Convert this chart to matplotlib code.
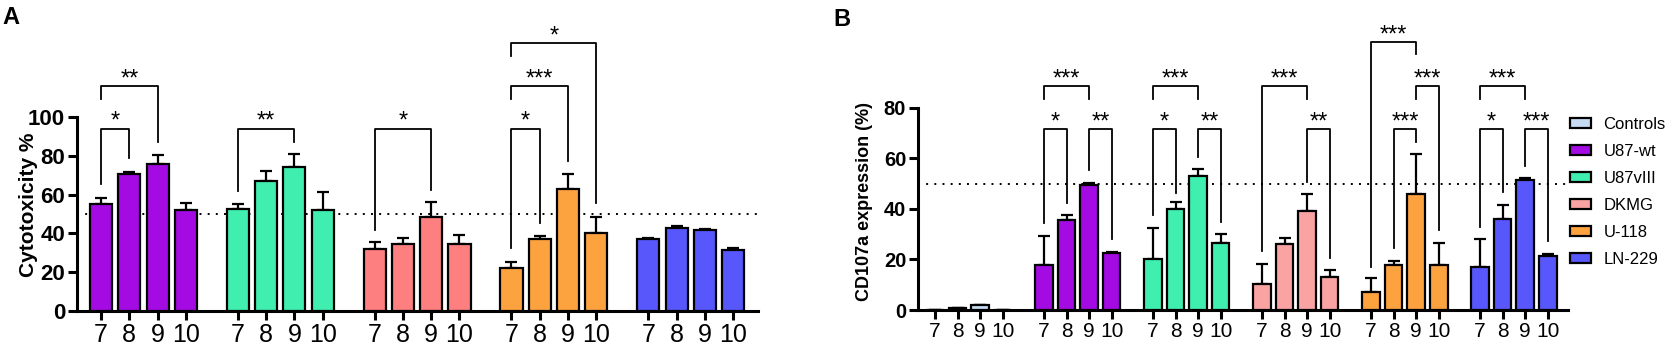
import matplotlib
matplotlib.use("Agg")
import matplotlib.pyplot as plt
from matplotlib.patches import Patch

plt.rcParams['font.family'] = ['Liberation Sans', 'DejaVu Sans']

hours = ['7', '8', '9', '10']

# ---- Panel A: cytotoxicity % ----
a_groups = ['U87-wt', 'U87vIII', 'DKMG', 'U-118', 'LN-229']
a_u87wt = [55.0, 70.8, 75.9, 52.0]
a_u87wt_top = [58.0, 71.8, 80.4, 55.5]
a_u87viii = [52.4, 67.0, 74.0, 52.0]
a_u87viii_top = [55.3, 72.3, 80.8, 61.3]
a_dkmg = [31.8, 34.7, 48.6, 34.4]
a_dkmg_top = [35.7, 37.5, 56.0, 39.0]
a_u118 = [22.0, 37.3, 62.7, 40.2]
a_u118_top = [25.4, 38.7, 70.6, 48.5]
a_ln229 = [37.1, 43.0, 41.6, 31.4]
a_ln229_top = [37.8, 43.8, 42.3, 32.5]
a_means = [a_u87wt, a_u87viii, a_dkmg, a_u118, a_ln229]
a_tops = [a_u87wt_top, a_u87viii_top, a_dkmg_top, a_u118_top, a_ln229_top]
a_colors = ['#a40be3', '#40efb0', '#fd7f7f', '#fca23f', '#5757fb']
# (group, bar i, bar j, bracket level, left leg end, right leg end, label)
a_brackets = [
    (0, 0, 1, 94, 65.5, 78.8, '*'),
    (0, 0, 2, 116, 109.4, 87.0, '**'),
    (1, 0, 2, 94, 61.9, 87.0, '**'),
    (2, 0, 2, 94, 42.0, 62.4, '*'),
    (3, 0, 1, 94, 32.3, 45.5, '*'),
    (3, 0, 2, 116, 109.4, 77.3, '***'),
    (3, 0, 3, 138, 131.4, 55.5, '*'),
]

# ---- Panel B: CD107a expression (%) ----
b_groups = ['Controls', 'U87-wt', 'U87vIII', 'DKMG', 'U-118', 'LN-229']
b_controls = [0.0, 0.6, 1.8, 0.0]
b_controls_top = [0.0, 0.6, 1.8, 0.0]
b_u87wt = [17.7, 35.7, 49.3, 22.7]
b_u87wt_top = [29.4, 37.5, 50.2, 22.9]
b_u87viii = [20.3, 40.0, 53.1, 26.6]
b_u87viii_top = [32.5, 42.8, 55.7, 29.9]
b_dkmg = [10.3, 26.2, 39.2, 13.2]
b_dkmg_top = [18.3, 28.6, 46.0, 15.7]
b_u118 = [7.1, 17.7, 45.7, 17.7]
b_u118_top = [12.5, 19.4, 61.5, 26.5]
b_ln229 = [17.1, 36.1, 51.3, 21.2]
b_ln229_top = [28.1, 41.4, 52.3, 22.1]
b_means = [b_controls, b_u87wt, b_u87viii, b_dkmg, b_u118, b_ln229]
b_tops = [b_controls_top, b_u87wt_top, b_u87viii_top, b_dkmg_top, b_u118_top, b_ln229_top]
b_colors = ['#c6daf2', '#a40be3', '#40efb0', '#f9a3a3', '#fca23f', '#5757fb']
b_brackets = [
    (1, 0, 1, 71.4, 34.3, 42.4, '*'),
    (1, 2, 3, 71.4, 55.3, 27.9, '**'),
    (1, 0, 2, 88.5, 83.5, 83.5, '***'),
    (2, 0, 1, 71.4, 37.5, 46.4, '*'),
    (2, 2, 3, 71.4, 60.6, 34.9, '**'),
    (2, 0, 2, 88.5, 83.5, 83.5, '***'),
    (3, 0, 2, 88.5, 23.4, 83.5, '***'),
    (3, 2, 3, 71.4, 50.7, 20.7, '**'),
    (4, 0, 2, 105.8, 17.1, 101.2, '***'),
    (4, 1, 2, 71.4, 24.4, 66.5, '***'),
    (4, 2, 3, 88.5, 83.5, 31.6, '***'),
    (5, 0, 1, 71.4, 32.9, 46.5, '*'),
    (5, 2, 3, 71.4, 57.0, 27.3, '***'),
    (5, 0, 2, 88.5, 83.5, 83.5, '***'),
]

GSTEP = 4.84
BW = 0.78
LW = 2.2
W, H = 1668, 350

fig = plt.figure(figsize=(W / 100, H / 100), dpi=100)


def pos(g, i):
    return g * GSTEP + i


def panel(ax, means, tops, colors, brackets, ymax_axis, ylim_top,
          ytick_fs, xtick_fs, ylabel, ylabel_fs, ticks):
    xs_all, labels_all = [], []
    for g, (m, t, c) in enumerate(zip(means, tops, colors)):
        xs = [pos(g, i) for i in range(len(m))]
        err = [max(tt - mm, 0) for tt, mm in zip(t, m)]
        ax.bar(xs, m, width=BW, color=c, edgecolor='black', linewidth=1.6,
               zorder=3)
        ax.errorbar(xs, m, yerr=[[0] * len(m), err], fmt='none',
                    ecolor='black', elinewidth=1.6, capsize=4, capthick=1.6,
                    zorder=2)
        xs_all += xs
        labels_all += hours
    ax.axhline(50, color='black', linestyle=(0, (1, 3.2)), linewidth=1.4,
               zorder=1)
    for g, i, j, lvl, lb, rb, lab in brackets:
        x1, x2 = pos(g, i), pos(g, j)
        ax.plot([x1, x1, x2, x2], [lb, lvl, lvl, rb], color='black',
                linewidth=1.3, clip_on=False, zorder=4)
        ax.annotate(lab, xy=((x1 + x2) / 2, lvl), xytext=(0, 0.5),
                    textcoords='offset points', ha='center', va='baseline',
                    fontsize=17, clip_on=False)
    ax.set_ylim(0, ylim_top)
    ax.set_xticks(xs_all)
    ax.set_xticklabels(labels_all, fontsize=xtick_fs)
    ax.set_yticks(ticks)
    ax.set_yticklabels([str(v) for v in ticks], fontsize=ytick_fs,
                       fontweight='bold')
    for s in ['top', 'right']:
        ax.spines[s].set_visible(False)
    ax.spines['left'].set_bounds(0, ymax_axis)
    ax.spines['left'].set_linewidth(LW)
    ax.spines['bottom'].set_linewidth(LW)
    ax.tick_params(axis='both', length=6.5, width=LW, pad=2)
    ax.set_ylabel(ylabel, fontsize=ylabel_fs, fontweight='bold')


# Panel A axes: x 77..758 px, y zero at 311 px, 1.94 px/unit
axA = fig.add_axes([77 / W, 39 / H, (758 - 77) / W, 306 / H])
panel(axA, a_means, a_tops, a_colors, a_brackets, 100, 306 / 1.94,
      16, 18, 'Cytotoxicity %', 15, [0, 20, 40, 60, 80, 100])
axA.set_xlim(-0.85, 4 * GSTEP + 3 + 0.88)
axA.yaxis.set_label_coords(-39 / (758 - 77), 0.348)

# Panel B axes: x 918..1568 px, y zero at 310 px, 2.53 px/unit
axB = fig.add_axes([918 / W, 40 / H, (1568 - 918) / W, 305 / H])
panel(axB, b_means, b_tops, b_colors, b_brackets, 80, 305 / 2.53,
      14.5, 15, 'CD107a expression (%)', 13, [0, 20, 40, 60, 80])
axB.set_xlim(-0.76, 5 * GSTEP + 3 + 0.9)
axB.yaxis.set_label_coords(-45 / (1568 - 918), 0.357)

handles = [Patch(facecolor=c, edgecolor='black', linewidth=1.6) for c in b_colors]
fig.legend(handles, b_groups, loc='upper left',
           bbox_to_anchor=(1570 / W, 1 - 117 / H), frameon=False,
           fontsize=12, handlelength=1.26, handleheight=0.54,
           handletextpad=0.75, labelspacing=0.72, borderpad=0,
           borderaxespad=0)

fig.text(2 / W, 1 - 6 / H, 'A', fontsize=17, fontweight='bold', va='top')
fig.text(833 / W, 1 - 8 / H, 'B', fontsize=17, fontweight='bold', va='top')

fig.savefig('out.png', dpi=100)
